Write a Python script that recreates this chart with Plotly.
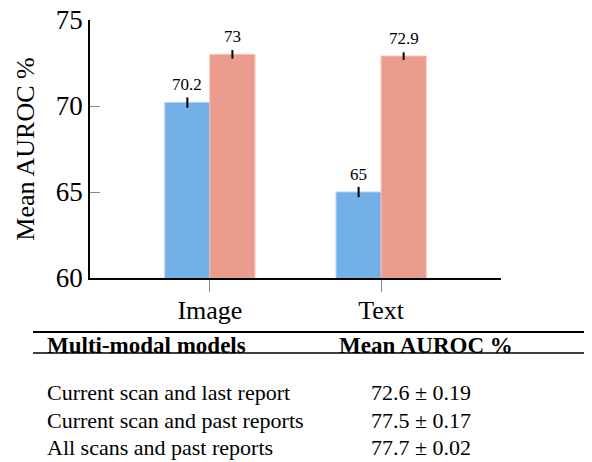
import plotly.graph_objects as go

# ---- data ----
categories = ["Image", "Text"]
series_names = ["Uni-modal", "Multi-modal"]
blue_values = [70.2, 65.0]
blue_errors = [0.3, 0.3]
red_values = [73.0, 72.9]
red_errors = [0.25, 0.22]
value_labels_blue = ["70.2", "65"]
value_labels_red = ["73", "72.9"]
y_ticks = [60, 65, 70, 75]

table_header = ["Multi-modal models", "Mean AUROC %"]
table_models = ["Current scan and last report", "Current scan and past reports", "All scans and past reports"]
table_means = [72.6, 77.5, 77.7]
table_stds = [0.19, 0.17, 0.02]

# ---- layout constants (page pixel coordinates) ----
PAGE_W, PAGE_H = 592, 462
OFF = 8  # default page body margin
W, H = PAGE_W - OFF, PAGE_H - OFF
L, R, T, B = 90, 501, 20, 278
FONT = "Liberation Serif"
BLUE = "#74B0E8"
BLUE_EDGE = "#A8CDF1"
RED = "#EC9C8C"
RED_EDGE = "#F3BDB2"

def px_x(px):
    return (px - L) / (R - L)

def px_y(py):
    return (B - py) / (B - T)

xpos = list(range(len(categories)))
bargap = 0.474
bw = (1 - bargap) / 2

fig = go.Figure()
fig.add_trace(go.Bar(
    x=xpos, y=blue_values, name=series_names[0], marker=dict(color=BLUE, line=dict(width=1, color=BLUE_EDGE)),
    error_y=dict(type="data", array=blue_errors, color="black", thickness=2, width=0),
))
fig.add_trace(go.Bar(
    x=xpos, y=red_values, name=series_names[1], marker=dict(color=RED, line=dict(width=1, color=RED_EDGE)),
    error_y=dict(type="data", array=red_errors, color="black", thickness=2, width=0),
))

annotations = []
for i in xpos:
    annotations.append(dict(x=i - bw / 2, y=blue_values[i], xref="x", yref="y", text=value_labels_blue[i],
                            showarrow=False, yshift=18, font=dict(family=FONT, size=17, color="black")))
    annotations.append(dict(x=i + bw / 2, y=red_values[i], xref="x", yref="y", text=value_labels_red[i],
                            showarrow=False, yshift=18, font=dict(family=FONT, size=17, color="black")))

# table
annotations.append(dict(x=px_x(45), y=px_y(345), xref="paper", yref="paper", xanchor="left", yanchor="middle",
                        text=table_header[0], showarrow=False,
                        font=dict(family=FONT, size=23, color="black", weight=700)))
annotations.append(dict(x=px_x(426), y=px_y(345), xref="paper", yref="paper", xanchor="center", yanchor="middle",
                        text=table_header[1], showarrow=False,
                        font=dict(family=FONT, size=23, color="black", weight=700)))
row_y = [392, 420, 448]
for k, (m, mu, sd) in enumerate(zip(table_models, table_means, table_stds)):
    annotations.append(dict(x=px_x(45), y=px_y(row_y[k]), xref="paper", yref="paper", xanchor="left",
                            yanchor="middle", text=m, showarrow=False,
                            font=dict(family=FONT, size=22, color="black")))
    annotations.append(dict(x=px_x(421), y=px_y(row_y[k]), xref="paper", yref="paper", xanchor="center",
                            yanchor="middle", text="%.1f \u00b1 %.2f" % (mu, sd), showarrow=False,
                            font=dict(family=FONT, size=22, color="black")))

shapes = [
    dict(type="line", xref="paper", yref="paper", x0=px_x(33), x1=px_x(600), y0=px_y(332), y1=px_y(332),
         line=dict(color="black", width=2)),
    dict(type="line", xref="paper", yref="paper", x0=px_x(33), x1=px_x(600), y0=px_y(353), y1=px_y(353),
         line=dict(color="black", width=1.3)),
]

fig.update_layout(
    width=W, height=H,
    margin=dict(l=L - OFF, r=PAGE_W - R, t=T - OFF, b=PAGE_H - B, pad=0, autoexpand=False),
    paper_bgcolor="white", plot_bgcolor="white",
    barmode="group", bargap=bargap, bargroupgap=0,
    showlegend=False,
    font=dict(family=FONT, color="black"),
    annotations=annotations, shapes=shapes,
    xaxis=dict(
        range=[-0.70, 1.70], tickvals=xpos, ticktext=categories, showgrid=False, zeroline=False,
        showline=True, linecolor="black", linewidth=1.5, ticks="outside", ticklen=12, tickcolor="#888888",
        tickwidth=1, tickfont=dict(family=FONT, size=26, color="black"), automargin=False,
        ticklabelstandoff=-4,
    ),
    yaxis=dict(
        range=[60, 75], tickvals=y_ticks, showgrid=False, zeroline=False,
        showline=True, linecolor="black", linewidth=1.5, ticks="inside", ticklen=10, tickcolor="#888888",
        tickwidth=1, tickfont=dict(family=FONT, size=27, color="black"), automargin=False,
        ticklabeloverflow="allow",
        title=dict(text="Mean AUROC %", font=dict(family=FONT, size=26, color="black"), standoff=14),
    ),
)

fig.write_html("out.html")
